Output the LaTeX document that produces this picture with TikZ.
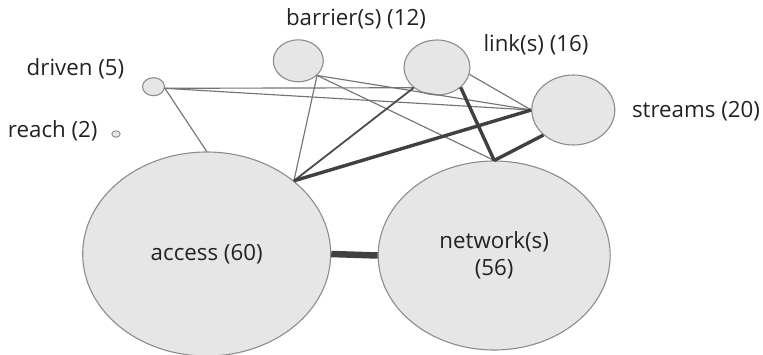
\documentclass[tikz,border=0pt]{standalone}
\usepackage{fontspec}
\setmainfont{Open Sans}
\usetikzlibrary{shapes.geometric}
\definecolor{nodefill}{HTML}{E6E6E6}
\definecolor{nodeline}{HTML}{8C8C8C}
\definecolor{thinedge}{HTML}{747474}
\definecolor{midedge}{HTML}{4C4C4C}
\definecolor{thickedge}{HTML}{404040}
\definecolor{txt}{HTML}{222222}
\tikzset{
  bubble/.style={ellipse, draw=nodeline, fill=nodefill, line width=1.1pt, inner sep=0pt, align=center},
  bigfont/.style={font=\fontsize{22.3}{27.3}\selectfont, text=txt},
  lbl/.style={inner sep=0pt, bigfont},
  thinline/.style={draw=thinedge, line width=1.15pt},
  midline/.style={draw=midedge, line width=1.8pt},
  thickline/.style={draw=thickedge, line width=3.4pt},
  heavyline/.style={draw=thickedge, line width=6.5pt},
}
\begin{document}
\begin{tikzpicture}[x=1pt,y=-1pt]
\useasboundingbox (0,0) rectangle (763,354);
% bubbles
\node[bubble, minimum width=248pt, minimum height=204pt, bigfont] (access) at (206.7,254) {access (60)};
\node[bubble, minimum width=232pt, minimum height=189pt, bigfont] (network) at (494.2,255.5) {network(s)\\(56)};
\node[bubble, minimum width=83pt, minimum height=70pt] (streams) at (573.3,110) {};
\node[bubble, minimum width=66pt, minimum height=55pt] (link) at (437,67.5) {};
\node[bubble, minimum width=50pt, minimum height=42pt] (barrier) at (298.3,60.8) {};
\node[bubble, minimum width=22pt, minimum height=18pt] (driven) at (153.5,86.7) {};
\node[bubble, minimum width=8.4pt, minimum height=6.4pt, line width=0.9pt] (reach) at (116,134) {};
% labels
\node[lbl] (ldriven) at (75.5,69) {driven (5)};
\node[lbl] (lreach) at (52.8,131) {reach (2)};
\node[lbl] (lbarrier) at (356,19) {barrier(s) (12)};
\node[lbl] (llink) at (536,45) {link(s) (16)};
\node[lbl] (lstreams) at (696,111) {streams (20)};
% connectors
\path[thinline] (driven.-8) -- (access.90);
\path[thinline] (driven.-8) -- (link.221);
\path[thinline] (driven.-8) -- (streams.west);
\path[thinline] (barrier.-38) -- (access.40);
\path[thinline] (barrier.-38) -- (streams.west);
\path[thinline] (barrier.-38) -- (network.north);
\path[thinline] (link.-12) -- (streams.west);
\path[midline] (link.221) -- (access.40);
\path[thickline] (link.-40) -- (network.north);
\path[thickline] (streams.west) -- (access.40);
\path[thickline] (streams.220) -- (network.north);
\path[heavyline] (access.east) -- (network.west);
\end{tikzpicture}
\end{document}
